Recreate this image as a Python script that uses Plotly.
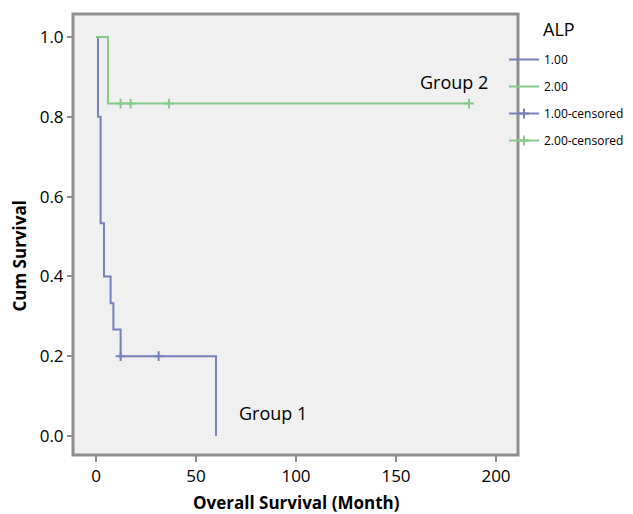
import plotly.graph_objects as go

# Group 1 (ALP = 1.00) Kaplan-Meier steps
g1_time = [0, 1, 2.3, 4, 7.3, 8.7, 12.3, 60]
g1_surv = [1.0, 0.8, 0.533, 0.4, 0.333, 0.267, 0.2, 0.0]
g1_cens_time = [12.3, 31.3]
g1_cens_surv = [0.2, 0.2]

# Group 2 (ALP = 2.00)
g2_time = [0, 6, 186.5]
g2_surv = [1.0, 0.833, 0.833]
g2_cens_time = [12.3, 17.3, 36.5, 186.5]
g2_cens_surv = [0.833, 0.833, 0.833, 0.833]

x_ticks = [0, 50, 100, 150, 200]
y_ticks = [0.0, 0.2, 0.4, 0.6, 0.8, 1.0]
y_tick_text = ["0.0", "0.2", "0.4", "0.6", "0.8", "1.0"]

BLUE = "#7880bb"
GREEN = "#86c98a"
FONT = "Open Sans"

# page body has an 8px margin; figure sized so it fills the window
OFF = 8
W, H = 625, 506
ML, MR, MT, MB = 65, 115, 6, 59
PW, PH = W - ML - MR, H - MT - MB


def px_to_paper(px, py):
    # px, py are window pixel coordinates
    return (px - OFF - ML) / PW, 1 - (py - OFF - MT) / PH


def gapped(xs, ys):
    ox, oy = [], []
    for a, b in zip(xs, ys):
        ox += [a, None]
        oy += [b, None]
    return ox, oy


fig = go.Figure()
fig.add_trace(go.Scatter(x=g1_time, y=g1_surv, mode="lines", line_shape="hv",
                         line=dict(color=BLUE, width=2), name="1.00",
                         legendgroup="a"))
fig.add_trace(go.Scatter(x=g2_time, y=g2_surv, mode="lines", line_shape="hv",
                         line=dict(color=GREEN, width=2), name="2.00",
                         legendgroup="b"))
cx, cy = gapped(g1_cens_time, g1_cens_surv)
fig.add_trace(go.Scatter(x=cx, y=cy, mode="lines+markers",
                         line=dict(color=BLUE, width=2),
                         marker=dict(symbol="cross-thin", size=7,
                                     line=dict(color=BLUE, width=2)),
                         name="1.00-censored", legendgroup="c"))
cx, cy = gapped(g2_cens_time, g2_cens_surv)
fig.add_trace(go.Scatter(x=cx, y=cy, mode="lines+markers",
                         line=dict(color=GREEN, width=2),
                         marker=dict(symbol="cross-thin", size=7,
                                     line=dict(color=GREEN, width=2)),
                         name="2.00-censored", legendgroup="d"))

lx, ly = px_to_paper(504, 45)
yt_x, yt_y = px_to_paper(18.5, 256)
xt_x, xt_y = px_to_paper(296, 502)
al_x, al_y = px_to_paper(559, 29)

fig.update_layout(
    width=W, height=H,
    margin=dict(l=ML, r=MR, t=MT, b=MB, autoexpand=False),
    paper_bgcolor="white",
    plot_bgcolor="#f0f0f0",
    font=dict(family=FONT, color="black", size=16),
    showlegend=True,
    legend=dict(x=lx, y=ly, xanchor="left", yanchor="top",
                font=dict(size=12, family=FONT), tracegroupgap=8,
                bgcolor="rgba(0,0,0,0)", borderwidth=0),
    xaxis=dict(range=[-11.5, 211], tickvals=x_ticks, showgrid=False,
               zeroline=False, ticks="outside", ticklen=6, tickwidth=2,
               tickcolor="#8f8f8f", tickfont=dict(size=17), showline=False),
    yaxis=dict(range=[-0.0476, 1.0576], tickvals=y_ticks, ticktext=y_tick_text,
               showgrid=False, zeroline=False, ticks="outside", ticklen=5,
               tickwidth=2, tickcolor="#8f8f8f", tickfont=dict(size=17),
               showline=False),
    shapes=[dict(type="rect", xref="paper", yref="paper", x0=0, x1=1, y0=0, y1=1,
                 line=dict(color="#8f8f8f", width=3), layer="above")],
    annotations=[
        dict(text="Group 2", x=179, y=0.8875, xref="x", yref="y",
             xanchor="center", yanchor="middle",
             showarrow=False, font=dict(size=18)),
        dict(text="Group 1", x=88.5, y=0.0575, xref="x", yref="y",
             xanchor="center", yanchor="middle",
             showarrow=False, font=dict(size=18)),
        dict(text="<b>Cum Survival</b>", x=yt_x, y=yt_y, xref="paper",
             yref="paper", xanchor="center", yanchor="middle",
             showarrow=False, textangle=-90, font=dict(size=17)),
        dict(text="<b>Overall Survival (Month)</b>", x=xt_x, y=xt_y,
             xref="paper", yref="paper", xanchor="center", yanchor="middle",
             showarrow=False, font=dict(size=17)),
        dict(text="ALP", x=al_x, y=al_y, xref="paper", yref="paper",
             xanchor="center", yanchor="middle",
             showarrow=False, font=dict(size=18)),
    ],
)

fig.write_html("out.html")
